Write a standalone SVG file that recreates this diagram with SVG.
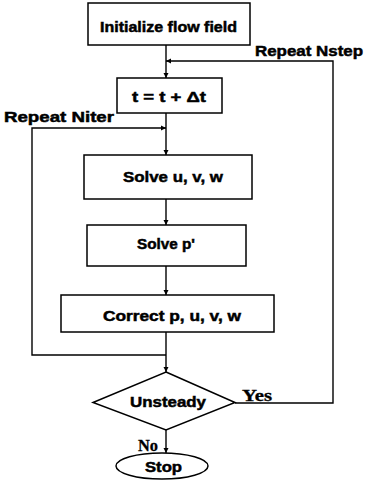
<svg xmlns="http://www.w3.org/2000/svg" width="367" height="480" viewBox="0 0 367 480">
<style>
.box{fill:#fff;stroke:#000;stroke-width:1.5}
.ln{fill:none;stroke:#000;stroke-width:1.4}
.t{font-family:"Liberation Sans",Arial,sans-serif;font-weight:bold;font-size:15px;fill:#000;stroke:#000;stroke-width:0.5}
.s{font-family:"Liberation Serif","Times New Roman",serif;font-weight:bold;font-size:16px;fill:#000;stroke:#000;stroke-width:0.3}
</style>
<defs>
<marker id="ah" viewBox="0 0 10 10" refX="10" refY="5" markerWidth="5" markerHeight="7" markerUnits="userSpaceOnUse" orient="auto">
<path d="M0,0 L10,5 L0,10 Z" fill="#000"/>
</marker>
</defs>
<rect width="367" height="480" fill="#fff"/>
<g id="connectors">
<line class="ln" x1="166" y1="45" x2="166" y2="78" marker-end="url(#ah)"/>
<polyline class="ln" points="235,403 333,403 333,61 166,61" marker-end="url(#ah)"/>
<line class="ln" x1="166" y1="113" x2="166" y2="155" marker-end="url(#ah)"/>
<polyline class="ln" points="166,355 32,355 32,128 166,128" marker-end="url(#ah)"/>
<line class="ln" x1="166" y1="199" x2="166" y2="225" marker-end="url(#ah)"/>
<line class="ln" x1="166" y1="266" x2="166" y2="295" marker-end="url(#ah)"/>
<line class="ln" x1="166" y1="332" x2="166" y2="372" marker-end="url(#ah)"/>
<line class="ln" x1="166" y1="430" x2="166" y2="453" marker-end="url(#ah)"/>
<text class="t" x="255" y="56" textLength="108" lengthAdjust="spacingAndGlyphs">Repeat Nstep</text>
<text class="t" x="4" y="122" textLength="110" lengthAdjust="spacingAndGlyphs">Repeat Niter</text>
<text class="s" x="242" y="401" textLength="30" lengthAdjust="spacingAndGlyphs">Yes</text>
<text class="s" x="138" y="451" textLength="20" lengthAdjust="spacingAndGlyphs">No</text>
</g>
<g id="init">
<rect class="box" x="88" y="3" width="162" height="42"/>
<text class="t" x="100" y="31.5" textLength="137" lengthAdjust="spacingAndGlyphs">Initialize flow field</text>
</g>
<g id="timestep">
<rect class="box" x="117" y="78" width="105" height="35"/>
<text class="t" x="132" y="102" textLength="74" lengthAdjust="spacingAndGlyphs">t = t +  Δt</text>
</g>
<g id="solveuvw">
<rect class="box" x="84" y="155" width="168" height="44"/>
<text class="t" x="123" y="182" textLength="100" lengthAdjust="spacingAndGlyphs">Solve u, v, w</text>
</g>
<g id="solvep">
<rect class="box" x="87" y="225" width="159" height="41"/>
<text class="t" x="137" y="249" textLength="58" lengthAdjust="spacingAndGlyphs">Solve p'</text>
</g>
<g id="correct">
<rect class="box" x="61" y="295" width="213" height="37"/>
<text class="t" x="103" y="321" textLength="138" lengthAdjust="spacingAndGlyphs">Correct p, u, v, w</text>
</g>
<g id="unsteady">
<polygon class="box" points="166,372 235,402.5 166,430 93,402.5"/>
<text class="t" x="130" y="407" textLength="76" lengthAdjust="spacingAndGlyphs">Unsteady</text>
</g>
<g id="stop">
<ellipse class="box" cx="162" cy="466" rx="46" ry="13"/>
<text class="t" x="145" y="472" textLength="37" lengthAdjust="spacingAndGlyphs">Stop</text>
</g>
</svg>
